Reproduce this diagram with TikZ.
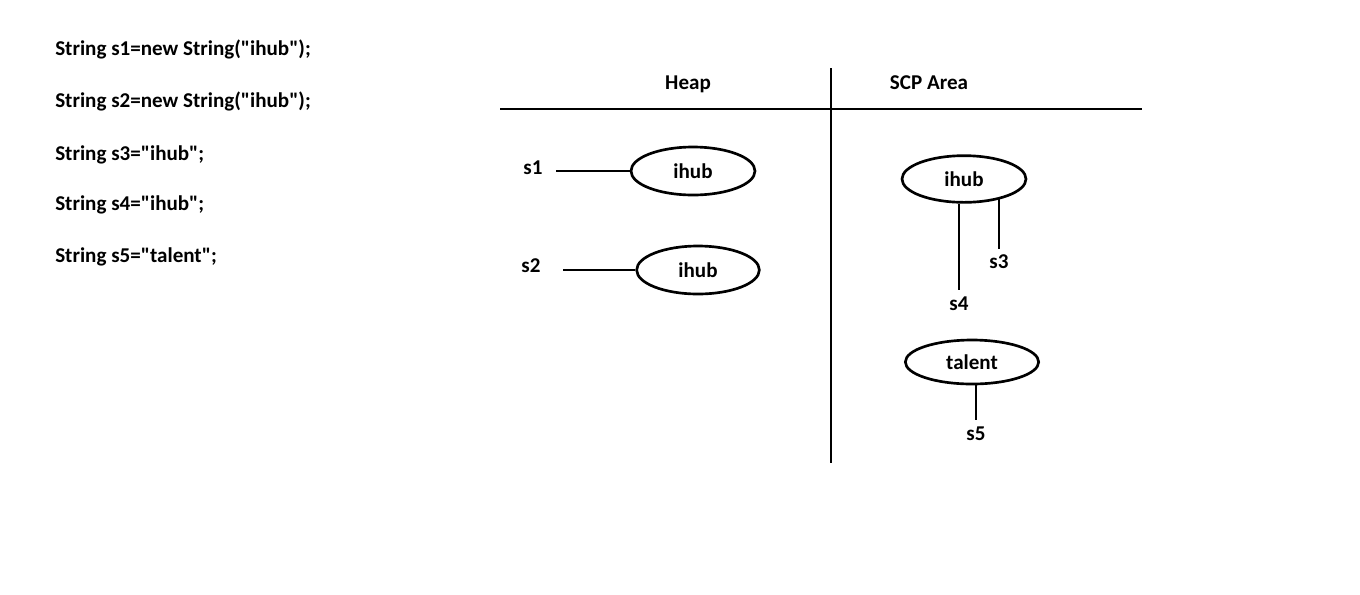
\documentclass[tikz,border=0pt]{standalone}
\usepackage{fontspec}
\setmainfont{Carlito}[Ligatures=TeXOff]
\usetikzlibrary{shapes.geometric}
\begin{document}
\begin{tikzpicture}[x=0.75pt,y=-0.75pt,
  txt/.style={font=\fontsize{15.8}{18}\selectfont\bfseries, inner sep=0pt},
  code/.style={txt, anchor=west},
  obj/.style={ellipse, draw, line width=2pt, minimum width=93pt, minimum height=35pt, inner sep=0pt, font=\fontsize{15.8}{18}\selectfont\bfseries},
  wire/.style={line width=2.2pt}]
\useasboundingbox (0,0) rectangle (1360,594);
% code
\node[code] (c1) at (55,49) {String s1=new String("ihub");};
\node[code] (c2) at (55,101) {String s2=new String("ihub");};
\node[code] (c3) at (55,155) {String s3="ihub";};
\node[code] (c4) at (55,205) {String s4="ihub";};
\node[code] (c5) at (55,257) {String s5="talent";};
% headers
\node[txt] (heap) at (688,84) {Heap};
\node[txt] (scp) at (929,83) {SCP Area};
\coordinate (hl) at (500,109);
\coordinate (hr) at (1142,109);
\coordinate (vt) at (831,68);
\coordinate (vb) at (831,463);
\draw[wire] (hl) -- (hr);
\draw[wire] (vt) -- (vb);
% heap
\node[txt] (s1) at (533,168) {s1};
\node[obj, minimum width=93pt, minimum height=36pt] (e1) at (693,171) {ihub};
\draw[wire] ([xshift=10pt]s1.east |- e1.west) -- (e1.west);
\node[txt] (s2) at (531,266) {s2};
\node[obj, minimum width=92pt, minimum height=36pt] (e2) at (698,270) {ihub};
\draw[wire] ([xshift=17pt]s2.east |- e2.west) -- (e2.west);
% scp
\node[obj, minimum width=93pt, minimum height=35pt] (e3) at (964,179) {ihub};
\node[txt] (s4) at (959,304) {s4};
\node[txt] (s3) at (999,262) {s3};
\draw[wire] (e3.south -| s4) -- ([yshift=5pt]s4.north);
\draw[wire] (e3.330 -| s3) -- ([yshift=4pt]s3.north);
\node[obj, minimum width=100pt, minimum height=33pt] (e4) at (972,362) {talent};
\node[txt] (s5) at (976,434) {s5};
\draw[wire] (e4.south -| s5) -- ([yshift=5pt]s5.north);
\end{tikzpicture}
\end{document}
